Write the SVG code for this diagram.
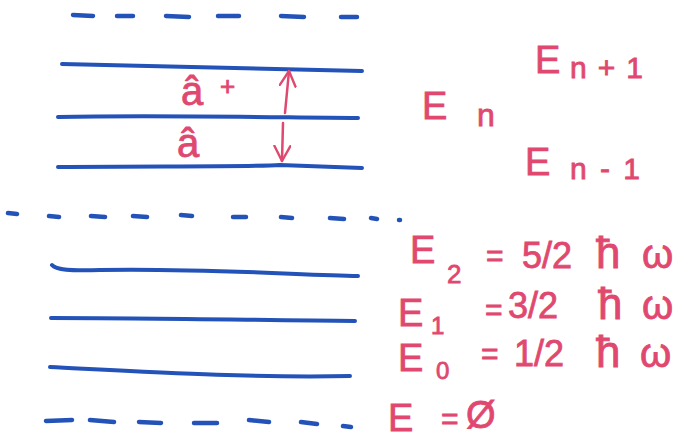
<svg xmlns="http://www.w3.org/2000/svg" width="693" height="439" viewBox="0 0 693 439">
<style>
.lvl{fill:none;stroke:#2352b8;stroke-width:4;stroke-linecap:round;stroke-linejoin:round}
.dash{fill:none;stroke:#2352b8;stroke-width:4.5;stroke-linecap:round}
.arr{fill:none;stroke:#e0486f;stroke-width:2.5;stroke-linecap:round}
.t{font-family:"Liberation Sans",Arial,sans-serif;fill:#e0486f;stroke:#e0486f;stroke-width:0.8}
</style>
<defs>
<marker id="ah" viewBox="0 0 18 18" refX="16" refY="9" markerWidth="18" markerHeight="18" markerUnits="userSpaceOnUse" orient="auto">
<path d="M1,1 L16,9 L1,17" fill="none" stroke="#e0486f" stroke-width="2.4" stroke-linecap="round" stroke-linejoin="round"/>
</marker>
</defs>
<rect width="693" height="439" fill="#ffffff"/>
<g id="dashed-levels">
<path class="dash" d="M73,15 L93,16 M117,16 L133,16 M166,16 L189,17 M218,16 L239,16 M281,16 L304,17 M341,17 L357,17"/>
<path class="dash" d="M8,213 L17,214 M49,216 L59,217 M91,216 L105,217 M133,216 L147,217 M181,215 L192,216 M233,217 L246,217 M281,217 L292,218 M330,218 L344,219 M371,218 L377,219 M399,220 L400,220"/>
<path class="dash" d="M46,421 L72,420 M90,420 L114,422 M139,422 L161,423 M194,423 L217,423 M249,420 L269,422 M301,422 L317,424 M343,426 L351,427"/>
</g>
<g id="levels">
<path class="lvl" d="M62,64 C150,66 250,68 362,71"/>
<path class="lvl" d="M58,117 C150,115 250,117 358,118"/>
<path class="lvl" d="M58,167 C150,166 250,167 280,165 C310,166 340,167 362,168"/>
<path class="lvl" d="M52,265 C56,270 70,271 100,270 C200,268 300,275 358,276"/>
<path class="lvl" d="M51,318 C150,318 250,320 355,321"/>
<path class="lvl" d="M50,367 C150,372 250,378 350,376"/>
</g>
<g id="connectors">
<path class="arr" d="M285,113 L289,71" marker-end="url(#ah)"/>
<path class="arr" d="M283,123 L282,161" marker-end="url(#ah)"/>
</g>
<g id="operators">
<text class="t" x="181" y="105" font-size="40">â</text>
<text class="t" x="220" y="95" font-size="26">+</text>
<text class="t" x="177" y="157" font-size="40">â</text>
</g>
<g id="labels-n">
<text class="t" x="535" y="73" font-size="38">E</text>
<text class="t" x="570" y="78" font-size="30" textLength="73" lengthAdjust="spacing">n+1</text>
<text class="t" x="422" y="119" font-size="38">E</text>
<text class="t" x="477" y="126" font-size="32">n</text>
<text class="t" x="525" y="175" font-size="38">E</text>
<text class="t" x="570" y="179" font-size="30" textLength="70" lengthAdjust="spacing">n-1</text>
</g>
<g id="labels-low">
<text class="t" x="410" y="263" font-size="38">E</text>
<text class="t" x="447" y="283" font-size="26">2</text>
<text class="t" x="486" y="266" font-size="30">=</text>
<text class="t" x="522" y="268" font-size="36">5/2</text>
<text class="t" x="596" y="268" font-size="44">ħ</text>
<text class="t" x="642" y="268" font-size="40">ω</text>
<text class="t" x="398" y="326" font-size="38">E</text>
<text class="t" x="431" y="334" font-size="24">1</text>
<text class="t" x="485" y="320" font-size="30">=</text>
<text class="t" x="508" y="318" font-size="36">3/2</text>
<text class="t" x="598" y="319" font-size="44">ħ</text>
<text class="t" x="642" y="319" font-size="40">ω</text>
<text class="t" x="398" y="371" font-size="38">E</text>
<text class="t" x="436" y="379" font-size="24">0</text>
<text class="t" x="481" y="364" font-size="30">=</text>
<text class="t" x="514" y="366" font-size="36">1/2</text>
<text class="t" x="596" y="367" font-size="44">ħ</text>
<text class="t" x="640" y="367" font-size="40">ω</text>
<text class="t" x="388" y="431" font-size="38">E</text>
<text class="t" x="441" y="429" font-size="30">=</text>
<text class="t" x="466" y="428" font-size="38">Ø</text>
</g>
</svg>
